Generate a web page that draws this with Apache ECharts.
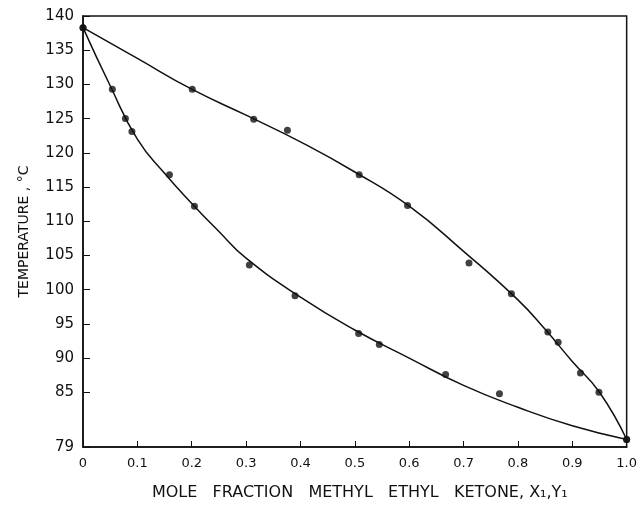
<!DOCTYPE html>
<html>
<head>
<meta charset="utf-8">
<style>
  html, body { margin: 0; padding: 0; background: #fff; }
  #chart { width: 640px; height: 512px; }
</style>
<script src="https://cdn.jsdelivr.net/npm/echarts@6/dist/echarts.min.js"></script>
</head>
<body>
<div id="chart"></div>
<script>
// axis ticks
var xTicks = [0, 0.1, 0.2, 0.3, 0.4, 0.5, 0.6, 0.7, 0.8, 0.9, 1.0];
var yTickValues = [77, 85, 90, 95, 100, 105, 110, 115, 120, 125, 130, 135, 140];
var yTickLabels = ['79', '85', '90', '95', '100', '105', '110', '115', '120', '125', '130', '135', '140'];

// dew point curve (vapour, y1)
var vapCurveX = [0, 0.1, 0.2, 0.3, 0.4, 0.5, 0.6, 0.7, 0.8, 0.85, 0.9, 0.95, 1.0];
var vapCurveT = [138.3, 133.8, 129.3, 125.5, 121.6, 117.2, 112.2, 105.6, 98.5, 94.2, 89.5, 85.0, 78.1];
// bubble point curve (liquid, x1)
var liqCurveX = [0, 0.05, 0.1, 0.15, 0.2, 0.25, 0.3, 0.4, 0.5, 0.6, 0.7, 0.8, 0.9, 1.0];
var liqCurveT = [138.3, 129.8, 122.0, 117.0, 112.6, 108.5, 104.6, 98.9, 94.1, 90.0, 86.0, 82.8, 80.1, 78.1];

// measured points
var vapPtsX = [0, 0.201, 0.314, 0.376, 0.508, 0.597, 0.710, 0.788, 0.855, 0.874, 0.915, 0.949, 1.0];
var vapPtsT = [138.3, 129.3, 124.9, 123.3, 116.8, 112.3, 103.9, 99.4, 93.8, 92.3, 87.8, 85.0, 78.1];
var liqPtsX = [0, 0.054, 0.078, 0.090, 0.159, 0.205, 0.306, 0.390, 0.507, 0.545, 0.667, 0.766, 1.0];
var liqPtsT = [138.3, 129.3, 125.0, 123.1, 116.8, 112.2, 103.6, 99.1, 93.6, 92.0, 87.6, 84.8, 78.1];

function pairs(xs, ys) {
  var out = [];
  for (var i = 0; i < xs.length; i++) out.push([xs[i], ys[i]]);
  return out;
}

var chart = echarts.init(document.getElementById('chart'));
var ink = '#111';
var font = 'DejaVu Sans';

chart.setOption({
  backgroundColor: '#fff',
  animation: false,
  grid: {
    left: 83, right: 13, top: 16, bottom: 65,
    show: true, borderColor: ink, borderWidth: 1.5
  },
  xAxis: {
    type: 'value',
    min: 0, max: 1,
    name: 'MOLE   FRACTION   METHYL   ETHYL   KETONE, X\u2081,Y\u2081',
    nameLocation: 'middle',
    nameGap: 38,
    nameTextStyle: { color: ink, fontFamily: font, fontSize: 16, padding: [0, 0, 0, 10] },
    axisLine: { show: true, lineStyle: { color: ink, width: 1.5 } },
    axisTick: { show: true, inside: true, length: 6, lineStyle: { color: ink }, customValues: xTicks },
    axisLabel: {
      color: ink, fontFamily: font, fontSize: 13, margin: 10,
      customValues: xTicks,
      formatter: function (v) { return v === 0 ? '0' : v.toFixed(1); }
    },
    splitLine: { show: false }
  },
  yAxis: {
    type: 'value',
    min: 77, max: 140,
    name: 'TEMPERATURE , \u00B0C',
    nameLocation: 'middle',
    nameGap: 52,
    nameTextStyle: { color: ink, fontFamily: font, fontSize: 14 },
    axisLine: { show: true, lineStyle: { color: ink, width: 1.5 } },
    axisTick: { show: true, inside: true, length: 7, lineStyle: { color: ink }, customValues: yTickValues },
    axisLabel: {
      color: ink, fontFamily: font, fontSize: 15, margin: 9,
      customValues: yTickValues,
      formatter: function (v) {
        var i = yTickValues.indexOf(v);
        return i >= 0 ? yTickLabels[i] : '';
      }
    },
    splitLine: { show: false }
  },
  series: [
    {
      name: 'dew', type: 'line', smooth: true,
      showSymbol: false, data: pairs(vapCurveX, vapCurveT),
      lineStyle: { color: ink, width: 1.5 }
    },
    {
      name: 'bubble', type: 'line', smooth: true,
      showSymbol: false, data: pairs(liqCurveX, liqCurveT),
      lineStyle: { color: ink, width: 1.5 }
    },
    {
      name: 'vapour pts', type: 'scatter', symbolSize: 7,
      itemStyle: { color: ink }, data: pairs(vapPtsX, vapPtsT)
    },
    {
      name: 'liquid pts', type: 'scatter', symbolSize: 7,
      itemStyle: { color: ink }, data: pairs(liqPtsX, liqPtsT)
    }
  ]
});
</script>
</body>
</html>
